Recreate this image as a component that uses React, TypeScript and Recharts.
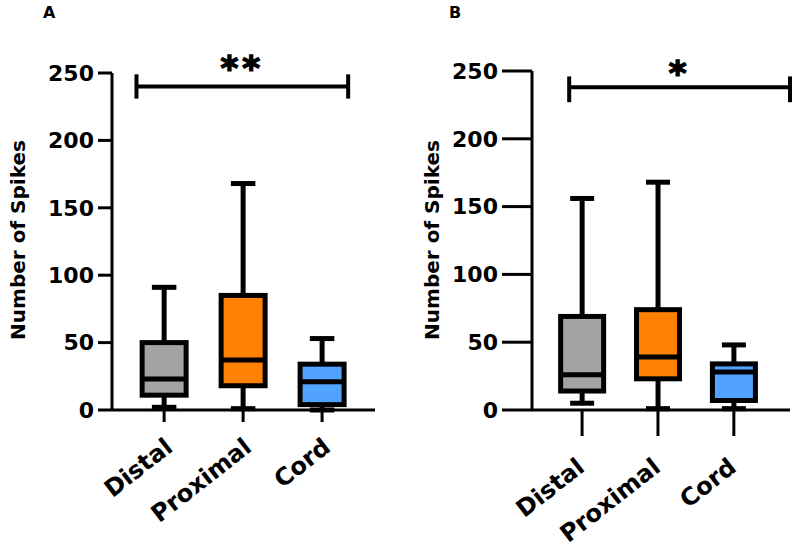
import React from 'react';
import { ComposedChart, Bar, XAxis, YAxis, ReferenceLine, Label } from 'recharts';

const categories = ['Distal', 'Proximal', 'Cord'];
const yTicks = [0, 50, 100, 150, 200, 250];

// panel A
const minA = [2, 1, 0];
const q1A = [11, 18, 4];
const medianA = [23, 37, 21];
const q3A = [50, 85, 34];
const maxA = [91, 168, 53];

// panel B
const minB = [5, 1, 1];
const q1B = [14, 23, 7];
const medianB = [26, 39, 28];
const q3B = [69, 74, 34];
const maxB = [156, 168, 48];

const fills = ['#a3a3a6', '#ff8103', '#52a2ff'];
const FONT = '"DejaVu Sans", sans-serif';

const buildRows = (min: number[], q1: number[], med: number[], q3: number[], max: number[]) =>
  categories.map((name, i) => ({ pos: i, name, min: min[i], q1: q1[i], median: med[i], q3: q3[i], max: max[i] }));

const BoxShape = (props: any) => {
  const { x, y, width, height, payload, index } = props;
  const top = Math.min(y, y + height);
  const bottom = Math.max(y, y + height);
  const span = payload.max - payload.min || 1;
  const yOf = (v: number) => bottom - ((v - payload.min) / span) * (bottom - top);
  const cx = x + width / 2;
  const capW = width / 2;
  const sw = 5;
  return (
    <g>
      <line x1={cx} x2={cx} y1={yOf(payload.max)} y2={yOf(payload.q3)} stroke="#000" strokeWidth={sw} />
      <line x1={cx} x2={cx} y1={yOf(payload.q1)} y2={yOf(payload.min)} stroke="#000" strokeWidth={sw} />
      <line x1={cx - capW / 2} x2={cx + capW / 2} y1={yOf(payload.max)} y2={yOf(payload.max)} stroke="#000" strokeWidth={sw} />
      <line x1={cx - capW / 2} x2={cx + capW / 2} y1={yOf(payload.min)} y2={yOf(payload.min)} stroke="#000" strokeWidth={sw} />
      <rect
        x={x + sw / 2}
        y={yOf(payload.q3)}
        width={width - sw}
        height={yOf(payload.q1) - yOf(payload.q3)}
        fill={fills[index % fills.length]}
        stroke="#000"
        strokeWidth={sw}
      />
      <line x1={x + sw / 2} x2={x + width - sw / 2} y1={yOf(payload.median)} y2={yOf(payload.median)} stroke="#000" strokeWidth={sw} />
    </g>
  );
};

function Panel(p: any) {
  const rows = buildRows(p.min, p.q1, p.med, p.q3, p.max);
  const XTick = ({ x, y, payload }: any) => {
    const tx = x + p.labelDx;
    const ty = y + p.labelDy;
    return (
      <text x={tx} y={ty} transform={`rotate(-38, ${tx}, ${ty})`} textAnchor="end"
        fontFamily={FONT} fontWeight="bold" fontSize={24} fill="#000">
        {categories[payload.value]}
      </text>
    );
  };
  return (
    <div style={{ position: 'absolute', left: p.left, top: 0 }}>
      <ComposedChart width={400} height={547} data={rows} margin={{ top: p.top, right: p.right, bottom: 107, left: 0 }}>
        <XAxis
          dataKey="pos"
          type="number"
          domain={p.xDomain}
          ticks={[0, 1, 2]}
          height={30}
          allowDataOverflow
          tick={<XTick />}
          tickSize={p.xTickSize}
          axisLine={{ stroke: '#000', strokeWidth: 3 }}
          tickLine={{ stroke: '#000', strokeWidth: 3 }}
        />
        <YAxis
          type="number"
          domain={[0, 250]}
          ticks={yTicks}
          width={p.yWidth}
          tickSize={p.yTickSize}
          tickMargin={4}
          axisLine={{ stroke: '#000', strokeWidth: 3 }}
          tickLine={{ stroke: '#000', strokeWidth: 3 }}
          tick={{ fontFamily: FONT, fontWeight: 'bold', fontSize: 22, fill: '#000' }}
        >
          <Label
            content={() => (
              <text x={p.labelX} y={240} transform={`rotate(-90, ${p.labelX}, 240)`} textAnchor="middle"
                dominantBaseline="central" fontFamily={FONT} fontWeight="bold" fontSize={20} fill="#000">
                Number of Spikes
              </text>
            )}
          />
        </YAxis>
        <Bar dataKey={(d: any) => [d.min, d.max]} barSize={p.barSize} shape={<BoxShape />} isAnimationActive={false} />
        <ReferenceLine
          segment={[{ x: p.sigFrom, y: p.sigY }, { x: p.sigTo, y: p.sigY }]}
          stroke="#000"
          strokeWidth={4}
          ifOverflow="visible"
        >
          <Label value={p.stars} position="top" offset={p.starOffset} fontFamily={FONT} fontWeight="bold"
            fontSize={34} letterSpacing={4} fill="#000" stroke="#000" strokeWidth={1.5} />
        </ReferenceLine>
        <ReferenceLine segment={[{ x: p.sigFrom, y: p.capLo }, { x: p.sigFrom, y: p.capHi }]} stroke="#000" strokeWidth={4} ifOverflow="visible" />
        <ReferenceLine segment={[{ x: p.sigTo, y: p.capLo }, { x: p.sigTo, y: p.capHi }]} stroke="#000" strokeWidth={4} ifOverflow="visible" />
      </ComposedChart>
      <div style={{ position: 'absolute', left: p.letterX, top: 3, fontFamily: FONT, fontWeight: 'bold', fontSize: 16 }}>
        {p.letter}
      </div>
    </div>
  );
}

export default function App() {
  return (
    <div style={{ position: 'absolute', left: 0, top: 0, width: 800, height: 547, background: '#fff' }}>
      <Panel
        left={0} top={73} right={25} yWidth={112} yTickSize={14} xTickSize={12}
        xDomain={[-0.66, 2.67]} barSize={49} labelDx={10} labelDy={26} labelX={18}
        min={minA} q1={q1A} med={medianA} q3={q3A} max={maxA}
        sigFrom={-0.35} sigTo={2.33} sigY={240} capLo={231} capHi={249} stars="**" starOffset={6}
        letter="A" letterX={43}
      />
      <Panel
        left={400} top={71} right={10} yWidth={132} yTickSize={30} xTickSize={26}
        xDomain={[-0.66, 2.74]} barSize={48} labelDx={4} labelDy={32} labelX={32}
        min={minB} q1={q1B} med={medianB} q3={q3B} max={maxB}
        sigFrom={-0.17} sigTo={2.74} sigY={238} capLo={227} capHi={246} stars="*" starOffset={2}
        letter="B" letterX={49}
      />
    </div>
  );
}
